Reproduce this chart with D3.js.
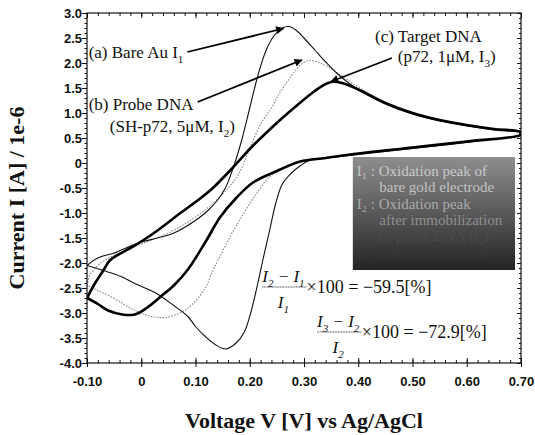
<!DOCTYPE html>
<html>
<head>
<meta charset="utf-8">
<script src="https://cdn.jsdelivr.net/npm/d3@7"></script>
<style>
  body { margin: 0; background: #fff; }
  svg text { font-family: "Liberation Serif", "Times New Roman", serif; }
  .tick text { font-family: "Liberation Sans", Arial, sans-serif; font-weight: bold; font-size: 13px; fill: #111; }
</style>
</head>
<body>
<div id="chart"></div>
<script>
// [V, I(1e-6 A)]; forward sweep then reverse sweep
var bareAuFwd = [[-0.10,-2.05],[-0.08,-1.90],[-0.05,-1.80],[-0.02,-1.66],[0.00,-1.58],[0.03,-1.50],[0.06,-1.40],
  [0.09,-1.22],[0.12,-0.98],[0.14,-0.75],[0.155,-0.50],[0.17,-0.08],[0.185,0.45],[0.20,1.10],[0.215,1.75],
  [0.23,2.25],[0.245,2.55],[0.26,2.70],[0.272,2.73],[0.285,2.66],[0.30,2.50],[0.32,2.26],[0.34,2.02],
  [0.36,1.80],[0.38,1.62],[0.40,1.47],[0.45,1.18],[0.50,0.98],[0.55,0.84],[0.60,0.74],[0.65,0.66],[0.70,0.60]]
var bareAuRev = [[0.70,0.56],[0.65,0.48],[0.60,0.41],[0.55,0.35],[0.50,0.29],[0.45,0.23],[0.40,0.17],[0.35,0.11],
  [0.31,0.05],[0.29,-0.08],[0.275,-0.22],[0.26,-0.42],[0.248,-0.80],[0.237,-1.33],[0.225,-1.90],[0.215,-2.40],
  [0.202,-2.99],[0.19,-3.38],[0.175,-3.60],[0.155,-3.72],[0.135,-3.62],[0.118,-3.47],[0.10,-3.27],[0.086,-3.07],
  [0.06,-2.85],[0.025,-2.59],[-0.01,-2.42],[-0.037,-2.27],[-0.07,-2.15],[-0.10,-2.05]]

var probeFwd = [[-0.10,-2.45],[-0.095,-2.25],[-0.08,-2.05],[-0.06,-1.90],[-0.03,-1.75],[0.00,-1.62],[0.04,-1.45],
  [0.08,-1.22],[0.12,-0.92],[0.15,-0.62],[0.175,-0.30],[0.19,0.02],[0.205,0.42],[0.22,0.78],[0.24,1.10],
  [0.255,1.40],[0.27,1.64],[0.285,1.86],[0.298,2.00],[0.31,2.05],[0.325,2.02],[0.345,1.92],[0.37,1.74],
  [0.40,1.52],[0.45,1.20],[0.50,0.99],[0.55,0.85],[0.60,0.75],[0.65,0.67],[0.70,0.61]]
var probeRev = [[0.70,0.55],[0.60,0.41],[0.50,0.29],[0.40,0.17],[0.33,0.08],[0.29,0.01],[0.26,-0.12],[0.237,-0.27],
  [0.21,-0.65],[0.182,-1.13],[0.165,-1.45],[0.145,-1.87],[0.13,-2.20],[0.118,-2.50],[0.095,-2.82],[0.073,-2.99],
  [0.044,-3.09],[0.02,-3.07],[0.007,-3.03],[-0.02,-2.90],[-0.037,-2.79],[-0.06,-2.65],[-0.08,-2.55],[-0.10,-2.45]]

var targetFwd = [[-0.10,-2.70],[-0.085,-2.40],[-0.07,-2.15],[-0.058,-1.95],[-0.04,-1.82],[-0.02,-1.70],[0.00,-1.57],
  [0.03,-1.35],[0.066,-1.05],[0.10,-0.78],[0.13,-0.52],[0.169,-0.09],[0.20,0.28],[0.23,0.60],[0.26,0.90],
  [0.29,1.18],[0.315,1.40],[0.335,1.55],[0.35,1.62],[0.37,1.60],[0.40,1.47],[0.45,1.20],[0.50,1.00],
  [0.55,0.86],[0.60,0.76],[0.65,0.68],[0.70,0.62]]
var targetRev = [[0.70,0.57],[0.60,0.43],[0.50,0.31],[0.40,0.19],[0.34,0.10],[0.293,0.03],[0.25,-0.16],[0.206,-0.39],
  [0.175,-0.70],[0.145,-1.09],[0.12,-1.55],[0.086,-2.13],[0.06,-2.45],[0.036,-2.67],[0.01,-2.90],[-0.012,-3.03],
  [-0.035,-3.03],[-0.061,-2.95],[-0.08,-2.82],[-0.10,-2.70]]

var xTicks = [-0.1, 0, 0.1, 0.2, 0.3, 0.4, 0.5, 0.6, 0.7]
var xTickLabels = ["-0.10", "0", "0.10", "0.20", "0.30", "0.40", "0.50", "0.60", "0.70"]
var yTicks = [3, 2.5, 2, 1.5, 1, 0.5, 0, -0.5, -1, -1.5, -2, -2.5, -3, -3.5, -4]
var yTickLabels = ["3.0","2.5","2.0","1.5","1.0","0.5","0","-0.5","-1.0","-1.5","-2.0","-2.5","-3.0","-3.5","-4.0"]

// where each label arrow starts and which peak it points at
var arrows = [
  {from: [0.085, 2.22], to: [0.262, 2.69]},
  {from: [0.104, 1.22], to: [0.296, 2.06]},
  {from: [0.462, 2.10], to: [0.350, 1.63]}
]

var boxLines = ["I\u2081 : Oxidation peak of", "      bare gold electrode", "I\u2082 : Oxidation peak",
  "      after immobilization", "      of probe DNA (I\u2082)", "I\u2083 : after hybridization"]

const W = 535, H = 435

var svg = d3.select("#chart").append("svg")
  .attr("width", W).attr("height", H)

var x = d3.scaleLinear().domain([-0.1, 0.7]).range([87, 521])
var y = d3.scaleLinear().domain([-4, 3]).range([363, 13])

var defs = svg.append("defs")
defs.append("clipPath").attr("id", "plotclip")
  .append("rect").attr("x", 87).attr("y", 13).attr("width", 434).attr("height", 350)

defs.append("marker").attr("id", "head")
  .attr("viewBox", "0 0 10 10").attr("refX", 9).attr("refY", 5)
  .attr("markerWidth", 11).attr("markerHeight", 8)
  .attr("markerUnits", "userSpaceOnUse").attr("orient", "auto")
  .append("path").attr("d", "M0,0 L10,5 L0,10 z").attr("fill", "#000")

var grad = defs.append("linearGradient").attr("id", "boxgrad")
  .attr("x1", 0).attr("y1", 0).attr("x2", 0).attr("y2", 1)
grad.append("stop").attr("offset", "0%").attr("stop-color", "#8e8e8e")
grad.append("stop").attr("offset", "45%").attr("stop-color", "#5e5e5e")
grad.append("stop").attr("offset", "100%").attr("stop-color", "#232323")

// gray legend box
var bx0 = x(0.39), bx1 = x(0.689), by0 = y(0.12), by1 = y(-2.14)
svg.append("rect").attr("x", bx0).attr("y", by0)
  .attr("width", bx1 - bx0).attr("height", by1 - by0)
  .attr("fill", "url(#boxgrad)")

var boxFill = ["#c9c9c9", "#c2c2c2", "#acacac", "#8f8f8f", "#4a4a4a", "#363636"]
svg.append("g").selectAll("text")
  .data(boxLines).enter()
  .append("text")
  .attr("x", bx0 + 4)
  .attr("y", (d, i) => by0 + 19 + i * 16.3)
  .attr("font-size", 15)
  .attr("xml:space", "preserve")
  .style("white-space", "pre")
  .attr("fill", (d, i) => boxFill[i])
  .text(d => d)

// curves
var line = d3.line()
  .x(d => x(d[0])).y(d => y(d[1]))
  .curve(d3.curveCatmullRom.alpha(0.5))

var curves = [
  {pts: probeFwd.concat(probeRev), stroke: "#8a8a8a", width: 1.1, dash: "1.6,1.4"},
  {pts: bareAuFwd.concat(bareAuRev), stroke: "#111", width: 1.1, dash: null},
  {pts: targetFwd.concat(targetRev), stroke: "#000", width: 2.6, dash: null}
]

svg.append("g").attr("clip-path", "url(#plotclip)")
  .selectAll("path")
  .data(curves).enter()
  .append("path")
  .attr("d", d => line(d.pts))
  .attr("fill", "none")
  .attr("stroke", d => d.stroke)
  .attr("stroke-width", d => d.width)
  .attr("stroke-dasharray", d => d.dash)
  .attr("stroke-linejoin", "round")

// arrows
svg.append("g").selectAll("line")
  .data(arrows).enter()
  .append("line")
  .attr("x1", d => x(d.from[0])).attr("y1", d => y(d.from[1]))
  .attr("x2", d => x(d.to[0])).attr("y2", d => y(d.to[1]))
  .attr("stroke", "#000").attr("stroke-width", 1.8)
  .attr("marker-end", "url(#head)")

// text with subscript parts: [text, isSub]
function richText(g, px, py, parts, size, italic) {
  var t = g.append("text").attr("x", px).attr("y", py)
    .attr("font-size", size).attr("fill", "#111")
    .attr("font-style", italic ? "italic" : null)
  var down = false
  parts.forEach(function(p) {
    var s = t.append("tspan").text(p[0])
    if (p[1] && !down) { s.attr("dy", size * 0.28).attr("font-size", size * 0.65); down = true }
    else if (p[1]) { s.attr("font-size", size * 0.65) }
    else if (down) { s.attr("dy", -size * 0.28); down = false }
  })
  return t
}

var notes = svg.append("g")
richText(notes, x(-0.097), y(2.1), [["(a) Bare Au I", false], ["1", true]], 17)
richText(notes, x(-0.097), y(1.06), [["(b) Probe DNA", false]], 17)
richText(notes, x(-0.058), y(0.62), [["(SH-p72, 5\u03bcM, I", false], ["2", true], [")", false]], 17)
richText(notes, x(0.431), y(2.42), [["(c) Target DNA", false]], 17)
richText(notes, x(0.473), y(2.02), [["(p72, 1\u03bcM, I", false], ["3", true], [")", false]], 17)

// the two percentage formulas
function fraction(left, lineY, num, den, tail) {
  var g = svg.append("g")
  var n = richText(g, left, lineY - 5, num, 17, true)
  var w = n.node().getBBox().width
  g.append("line").attr("x1", left).attr("x2", left + w + 1)
    .attr("y1", lineY).attr("y2", lineY)
    .attr("stroke", "#333").attr("stroke-width", 0.9).attr("stroke-dasharray", "1,0.6")
  var d = richText(g, left, lineY + 21, den, 17, true)
  var dw = d.node().getBBox().width
  d.attr("x", left + (w - dw) / 2)
  g.append("text").attr("x", left + w + 1).attr("y", lineY + 6)
    .attr("font-size", 18).attr("fill", "#111").text(tail)
}

fraction(x(0.223), y(-2.48), [["I", false], ["2", true], [" \u2212 I", false], ["1", true]],
  [["I", false], ["1", true]], "\u00d7100 = \u221259.5[%]")
fraction(x(0.324), y(-3.38), [["I", false], ["3", true], [" \u2212 I", false], ["2", true]],
  [["I", false], ["2", true]], "\u00d7100 = \u221272.9[%]")

// axes: labels
var fmtX = d => xTickLabels[xTicks.indexOf(d)]
var fmtY = d => yTickLabels[yTicks.indexOf(d)]

svg.append("g").attr("transform", "translate(0,363)")
  .call(d3.axisBottom(x).tickValues(xTicks).tickFormat(fmtX).tickSize(0).tickPadding(14))
  .call(g => g.select(".domain").remove())
svg.append("g").attr("transform", "translate(87,0)")
  .call(d3.axisLeft(y).tickValues(yTicks).tickFormat(fmtY).tickSize(0).tickPadding(5))
  .call(g => g.select(".domain").remove())

// axes: tick marks on all four sides
var xMinor = d3.range(-0.1, 0.7001, 0.02)
var yMinor = d3.range(-4, 3.001, 0.1)
function ticks(axisFn, scale, vals, size, tr) {
  svg.append("g").attr("transform", tr)
    .call(axisFn(scale).tickValues(vals).tickFormat("").tickSize(size))
    .call(g => g.select(".domain").remove())
    .call(g => g.selectAll(".tick line").attr("stroke", "#111"))
}
ticks(d3.axisBottom, x, xMinor, -3, "translate(0,363)")
ticks(d3.axisBottom, x, xTicks, 4, "translate(0,363)")
ticks(d3.axisBottom, x, xTicks, -5, "translate(0,363)")
ticks(d3.axisTop, x, xMinor, -3, "translate(0,13)")
ticks(d3.axisTop, x, xTicks, -5, "translate(0,13)")
ticks(d3.axisLeft, y, yMinor, 2.5, "translate(87,0)")
ticks(d3.axisLeft, y, yTicks, 5, "translate(87,0)")
ticks(d3.axisRight, y, yMinor, -2, "translate(521,0)")
ticks(d3.axisRight, y, yTicks, -4, "translate(521,0)")

svg.append("rect").attr("x", 87).attr("y", 13).attr("width", 434).attr("height", 350)
  .attr("fill", "none").attr("stroke", "#111").attr("stroke-width", 1.2)

// axis titles
svg.append("text")
  .attr("transform", "translate(24,198) rotate(-90)")
  .attr("text-anchor", "middle")
  .attr("font-size", 22).attr("font-weight", "bold").attr("fill", "#111")
  .text("Current I [A] / 1e-6")

svg.append("text")
  .attr("x", 304).attr("y", 428)
  .attr("text-anchor", "middle")
  .attr("font-size", 22).attr("font-weight", "bold").attr("fill", "#111")
  .text("Voltage V [V] vs Ag/AgCl")
</script>
</body>
</html>
